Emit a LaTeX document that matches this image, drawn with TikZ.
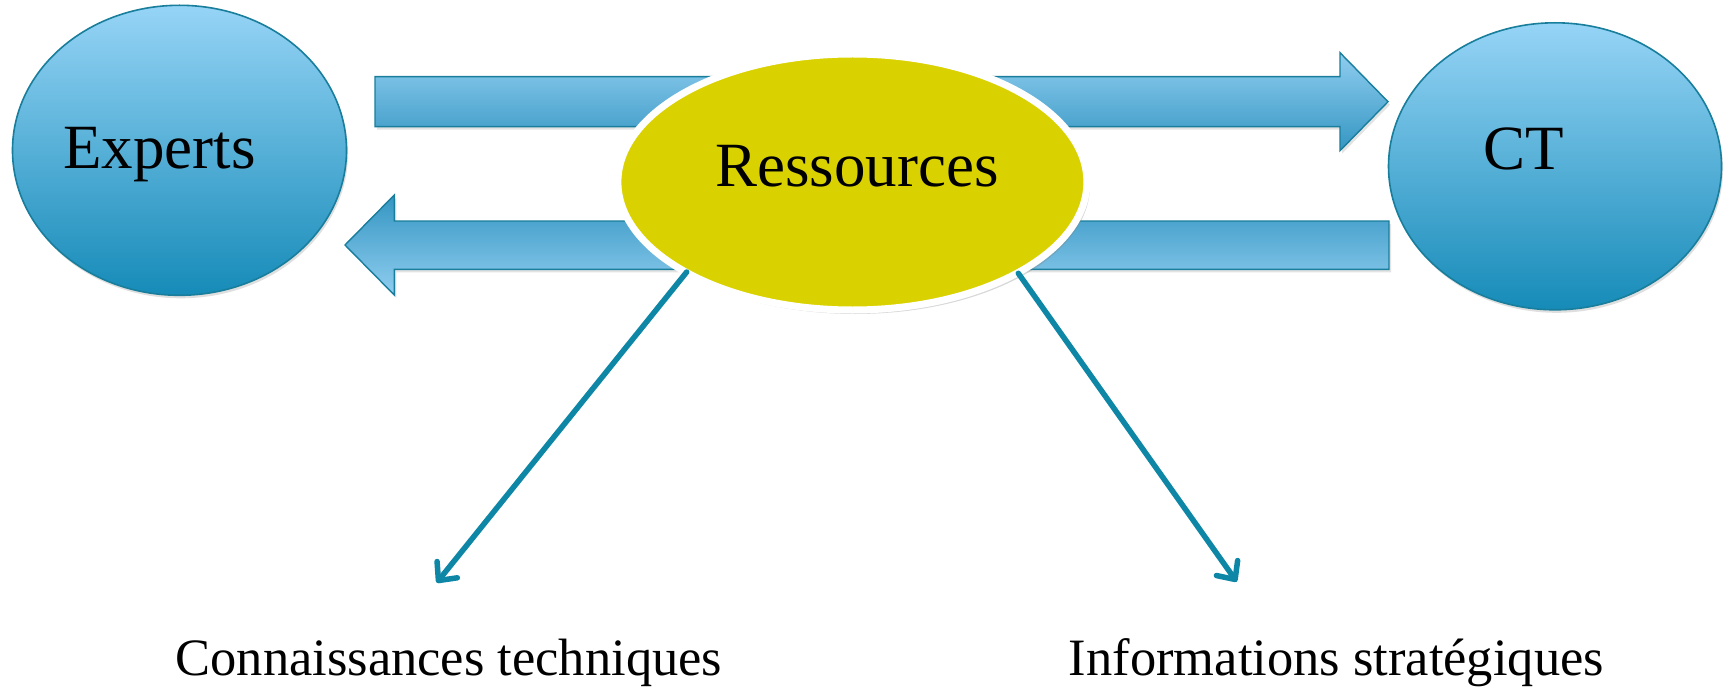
\documentclass[tikz,border=0pt]{standalone}
\usepackage{fontspec}
\setmainfont{Liberation Serif}
\usetikzlibrary{shapes.geometric,arrows.meta,shadows}
\definecolor{bluetop}{RGB}{150,212,246}
\definecolor{bluebot}{RGB}{22,139,184}
\definecolor{blueedge}{RGB}{24,126,156}
\definecolor{arrtop}{RGB}{144,205,240}
\definecolor{arrbot}{RGB}{52,150,194}
\definecolor{resyellow}{RGB}{218,210,0}
\definecolor{linkblue}{RGB}{14,134,166}
\tikzset{
  bigfont/.style={font=\fontsize{63}{70}\selectfont},
  labfont/.style={font=\fontsize{52.5}{60}\selectfont},
  actor/.style={ellipse, draw=blueedge, line width=1.6pt, shading=axis,
    top color=bluetop, bottom color=bluebot, inner sep=0pt,
    drop shadow={opacity=0.25, shadow xshift=1.5pt, shadow yshift=-3pt}},
  blockarrow/.style={draw=blueedge, line width=1.4pt, shading=axis,
    drop shadow={opacity=0.22, shadow xshift=2pt, shadow yshift=-3pt}},
  hub/.style={ellipse, draw=white, line width=7pt, fill=resyellow, inner sep=0pt,
    drop shadow={opacity=0.3, shadow xshift=3pt, shadow yshift=-4pt}},
  link/.style={draw=linkblue, line width=5.5pt, line cap=round,
    -{Straight Barb[length=14pt,width=26pt,line cap=round,line join=round]}},
}
\begin{document}
\begin{tikzpicture}[x=1pt,y=-1pt]
\useasboundingbox (0,0) rectangle (1728,687);
\fill[white] (0,0) rectangle (1728,687);

% side ellipses
\node[actor, minimum width=334pt, minimum height=290pt] (experts) at (179.5,150.3) {};
\node[actor, minimum width=333pt, minimum height=287pt] (ct) at (1555,166.3) {};
\node[bigfont, anchor=base] (expertsL) at (159.5,168) {Experts};
\node[bigfont, anchor=base] (ctL) at (1524,169.3) {CT};

% block arrow to the right (Experts -> CT)
\path[blockarrow, top color=arrtop, bottom color=arrbot]
  (375,76.7) -- (1340,76.7) -- (1340,52.7) -- (1388,101.7) -- (1340,150.7)
  -- (1340,126.7) -- (375,126.7) -- cycle;
% block arrow to the left (CT -> Experts)
\path[blockarrow, top color=arrbot, bottom color=arrtop]
  (1389,221) -- (394.3,221) -- (394.3,195) -- (345,245) -- (394.3,295)
  -- (394.3,269.3) -- (1389,269.3) -- cycle;

% central hub
\node[hub, minimum width=469pt, minimum height=256pt] (res) at (852.4,182) {};
\node[bigfont, anchor=base] (resL) at (857,186) {Ressources};

% links
\coordinate (s1) at (686.7,272);
\coordinate (t1) at (436.7,582.7);
\coordinate (s2) at (1018.3,273.3);
\coordinate (t2) at (1236.7,581.7);
\draw[link] (s1) -- (t1);
\draw[link] (s2) -- (t2);

% bottom labels
\node[labfont, anchor=base west, inner sep=0pt] (know) at (175.3,675) {Connaissances techniques};
\node[labfont, anchor=base west, inner sep=0pt] (info) at (1068.7,675) {Informations stratégiques};
\end{tikzpicture}
\end{document}
